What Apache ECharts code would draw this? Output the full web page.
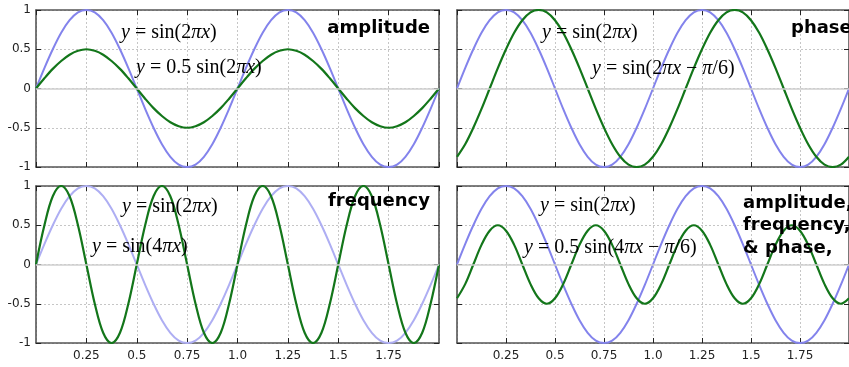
<!DOCTYPE html>
<html>
<head>
<meta charset="utf-8">
<script src="https://cdn.jsdelivr.net/npm/echarts@6/dist/echarts.min.js"></script>
<style>
  html, body { margin: 0; padding: 0; background: #fff; }
  #chart { width: 849px; height: 367px; }
</style>
</head>
<body>
<div id="chart"></div>
<script>
// sample positions along x (steps of 1/24)
const xs = [0, 0.0417, 0.0833, 0.125, 0.1667, 0.2083, 0.25, 0.2917, 0.3333, 0.375, 0.4167, 0.4583,
  0.5, 0.5417, 0.5833, 0.625, 0.6667, 0.7083, 0.75, 0.7917, 0.8333, 0.875, 0.9167, 0.9583,
  1, 1.0417, 1.0833, 1.125, 1.1667, 1.2083, 1.25, 1.2917, 1.3333, 1.375, 1.4167, 1.4583,
  1.5, 1.5417, 1.5833, 1.625, 1.6667, 1.7083, 1.75, 1.7917, 1.8333, 1.875, 1.9167, 1.9583, 2];

// reference wave y = sin(2πx)
const baseWave = [0, 0.26, 0.5, 0.71, 0.87, 0.97, 1, 0.97, 0.87, 0.71, 0.5, 0.26,
  0, -0.26, -0.5, -0.71, -0.87, -0.97, -1, -0.97, -0.87, -0.71, -0.5, -0.26,
  0, 0.26, 0.5, 0.71, 0.87, 0.97, 1, 0.97, 0.87, 0.71, 0.5, 0.26,
  0, -0.26, -0.5, -0.71, -0.87, -0.97, -1, -0.97, -0.87, -0.71, -0.5, -0.26, 0];

// amplitude panel
const ampWave = [0, 0.13, 0.25, 0.35, 0.43, 0.48, 0.5, 0.48, 0.43, 0.35, 0.25, 0.13,
  0, -0.13, -0.25, -0.35, -0.43, -0.48, -0.5, -0.48, -0.43, -0.35, -0.25, -0.13,
  0, 0.13, 0.25, 0.35, 0.43, 0.48, 0.5, 0.48, 0.43, 0.35, 0.25, 0.13,
  0, -0.13, -0.25, -0.35, -0.43, -0.48, -0.5, -0.48, -0.43, -0.35, -0.25, -0.13, 0];

// phase panel
const phaseWave = [-0.87, -0.71, -0.5, -0.26, 0, 0.26, 0.5, 0.71, 0.87, 0.97, 1, 0.97,
  0.87, 0.71, 0.5, 0.26, 0, -0.26, -0.5, -0.71, -0.87, -0.97, -1, -0.97,
  -0.87, -0.71, -0.5, -0.26, 0, 0.26, 0.5, 0.71, 0.87, 0.97, 1, 0.97,
  0.87, 0.71, 0.5, 0.26, 0, -0.26, -0.5, -0.71, -0.87, -0.97, -1, -0.97, -0.87];

// frequency panel
const freqWave = [0, 0.5, 0.87, 1, 0.87, 0.5, 0, -0.5, -0.87, -1, -0.87, -0.5,
  0, 0.5, 0.87, 1, 0.87, 0.5, 0, -0.5, -0.87, -1, -0.87, -0.5,
  0, 0.5, 0.87, 1, 0.87, 0.5, 0, -0.5, -0.87, -1, -0.87, -0.5,
  0, 0.5, 0.87, 1, 0.87, 0.5, 0, -0.5, -0.87, -1, -0.87, -0.5, 0];

// combined amplitude, frequency & phase panel
const comboWave = [-0.43, -0.25, 0, 0.25, 0.43, 0.5, 0.43, 0.25, 0, -0.25, -0.43, -0.5,
  -0.43, -0.25, 0, 0.25, 0.43, 0.5, 0.43, 0.25, 0, -0.25, -0.43, -0.5,
  -0.43, -0.25, 0, 0.25, 0.43, 0.5, 0.43, 0.25, 0, -0.25, -0.43, -0.5,
  -0.43, -0.25, 0, 0.25, 0.43, 0.5, 0.43, 0.25, 0, -0.25, -0.43, -0.5, -0.43];

const greenWaves = [ampWave, phaseWave, freqWave, comboWave];
const panelTitles = ['amplitude', 'phase', 'frequency', 'amplitude,\nfrequency,\n& phase,'];
const xTicks = [0.25, 0.5, 0.75, 1.0, 1.25, 1.5, 1.75];

const BLUE = '#8383ec';
const BLUE_LIGHT = '#aeaef3';
const GREEN = '#13761a';
const FRAME = '#555';

const grids = [
  { left: 36, top: 10, width: 403, height: 157 },
  { left: 457, top: 10, width: 401, height: 157 },
  { left: 36, top: 186, width: 403, height: 157 },
  { left: 457, top: 186, width: 401, height: 157 }
];

const tickFont = { color: '#222', fontSize: 12, fontFamily: 'DejaVu Sans' };
const xAxis = [], yAxis = [], series = [];

grids.forEach((g, p) => {
  const frameLine = { show: true, onZero: false, lineStyle: { color: FRAME, width: 1.6 } };
  const tick = { show: true, inside: true, length: 5, lineStyle: { color: '#222', width: 1 } };
  const grid = { show: false, lineStyle: { color: '#c6c6c6', width: 1, type: [2, 2] } };
  xAxis.push({
    type: 'value', gridIndex: p, position: 'bottom', min: 0, max: 2, interval: 0.25,
    axisLine: frameLine, axisTick: tick,
    axisLabel: Object.assign({
      show: p >= 2, showMinLabel: false, showMaxLabel: false, margin: 7,
      formatter: v => {
        const t = xTicks.find(k => Math.abs(k - v) < 1e-9);
        return t === undefined ? '' : (t === 1 ? '1.0' : String(t));
      }
    }, tickFont),
    splitLine: Object.assign({}, grid, { show: true })
  });
  xAxis.push({
    type: 'value', gridIndex: p, position: 'top', min: 0, max: 2, interval: 0.25,
    axisLine: frameLine, axisTick: tick, axisLabel: { show: false }, splitLine: { show: false }
  });
  yAxis.push({
    type: 'value', gridIndex: p, position: 'left', min: -1, max: 1, interval: 0.5,
    axisLine: frameLine, axisTick: tick,
    axisLabel: Object.assign({ show: p % 2 === 0, margin: 5 }, tickFont),
    splitLine: Object.assign({}, grid, { show: true })
  });
  yAxis.push({
    type: 'value', gridIndex: p, position: 'right', min: -1, max: 1, interval: 0.5,
    axisLine: frameLine, axisTick: tick, axisLabel: { show: false }, splitLine: { show: false }
  });

  const ax = 2 * p;
  // solid zero line under the curves
  series.push({
    type: 'line', xAxisIndex: ax, yAxisIndex: ax, data: [], z: 1, silent: true,
    markLine: {
      silent: true, symbol: 'none', label: { show: false },
      lineStyle: { color: '#cfcfcf', type: 'solid', width: 1.5 },
      data: [{ yAxis: 0 }]
    }
  });
  series.push({
    type: 'line', xAxisIndex: ax, yAxisIndex: ax, smooth: 0.35, showSymbol: false, z: 2,
    data: xs.map((x, k) => [x, baseWave[k]]),
    lineStyle: { color: p === 2 ? BLUE_LIGHT : BLUE, width: 2 }
  });
  series.push({
    type: 'line', xAxisIndex: ax, yAxisIndex: ax, smooth: 0.35, showSymbol: false, z: 3,
    data: xs.map((x, k) => [x, greenWaves[p][k]]),
    lineStyle: { color: GREEN, width: 2.2 }
  });
});

// math-style formula labels
function formula(parts, color) {
  return {
    text: parts.map(([s, t]) => `{${s}|${t}}`).join(''),
    rich: {
      i: { fontFamily: 'Liberation Serif', fontStyle: 'italic', fontSize: 20, color },
      n: { fontFamily: 'Liberation Serif', fontSize: 20, color }
    },
    verticalAlign: 'middle'
  };
}
const baseFormula = [['i', 'y'], ['n', ' = sin(2'], ['i', 'πx'], ['n', ')']];
const formulas = [
  { x: 121, y: 33, parts: baseFormula, color: BLUE },
  { x: 136, y: 68, parts: [['i', 'y'], ['n', ' = 0.5 sin(2'], ['i', 'πx'], ['n', ')']], color: GREEN },
  { x: 542, y: 33, parts: baseFormula, color: BLUE },
  { x: 592, y: 69, parts: [['i', 'y'], ['n', ' = sin(2'], ['i', 'πx'], ['n', ' − '], ['i', 'π'], ['n', '/6)']], color: GREEN },
  { x: 122, y: 207, parts: baseFormula, color: BLUE },
  { x: 92, y: 247, parts: [['i', 'y'], ['n', ' = sin(4'], ['i', 'πx'], ['n', ')']], color: GREEN },
  { x: 540, y: 206, parts: baseFormula, color: BLUE },
  { x: 524, y: 248, parts: [['i', 'y'], ['n', ' = 0.5 sin(4'], ['i', 'πx'], ['n', ' − '], ['i', 'π'], ['n', '/6)']], color: GREEN }
];

const graphic = formulas.map(f => ({
  type: 'text', x: f.x, y: f.y, z: 10, silent: true,
  style: formula(f.parts, f.color)
}));

const titleFont = { fontFamily: 'DejaVu Sans', fontWeight: 'bold', fontSize: 18, fill: '#000' };
const titlePos = [
  { x: 430, y: 28, align: 'right', va: 'middle' },
  { x: 791, y: 28, align: 'left', va: 'middle' },
  { x: 430, y: 201, align: 'right', va: 'middle' },
  { x: 743, y: 192, align: 'left', va: 'top' }
];
panelTitles.forEach((t, p) => {
  graphic.push({
    type: 'text', x: titlePos[p].x, y: titlePos[p].y, z: 10, silent: true,
    style: Object.assign({ text: t, align: titlePos[p].align, verticalAlign: titlePos[p].va, lineHeight: 22.5 }, titleFont)
  });
});

const chart = echarts.init(document.getElementById('chart'), null, { renderer: 'canvas' });
chart.setOption({
  animation: false,
  backgroundColor: '#fff',
  grid: grids,
  xAxis, yAxis, series, graphic
});
</script>
</body>
</html>
